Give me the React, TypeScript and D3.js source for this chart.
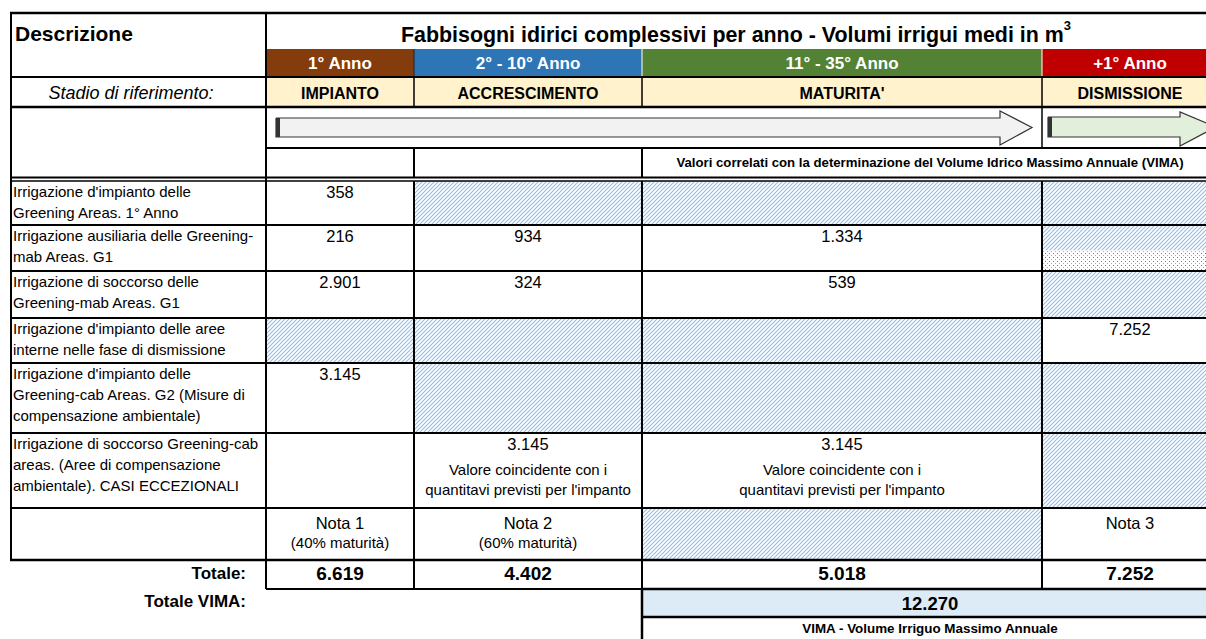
import React from 'react';
import * as d3 from 'd3';

const W = 1206;
const H = 639;

const anni = ['1° Anno', '2° - 10° Anno', '11° - 35° Anno', '+1° Anno'];
const coloriAnni = ['#843C0C', '#2E75B6', '#548235', '#C00000'];
const stadi = ['IMPIANTO', 'ACCRESCIMENTO', "MATURITA'", 'DISMISSIONE'];

const descrizioni = [
  ["Irrigazione d'impianto delle", 'Greening Areas. 1° Anno'],
  ['Irrigazione ausiliaria delle Greening-', 'mab Areas. G1'],
  ['Irrigazione di soccorso delle', 'Greening-mab Areas. G1'],
  ["Irrigazione d'impianto delle aree", 'interne nelle fase di dismissione'],
  ["Irrigazione d'impianto delle", 'Greening-cab Areas. G2 (Misure di', 'compensazione ambientale)'],
  ['Irrigazione di soccorso Greening-cab', 'areas. (Aree di compensazione', 'ambientale). CASI ECCEZIONALI'],
];

const valoriImpianto = [358, 216, 2901, null, 3145, null];
const valoriAccrescimento = [null, 934, 324, null, null, 3145];
const valoriMaturita = [null, 1334, 539, null, null, 3145];
const valoriDismissione = [null, null, null, 7252, null, null];

// 1 = cella tratteggiata, 2 = tratteggio + puntinato
const tratteggio = [
  [0, 1, 1, 1],
  [0, 0, 0, 2],
  [0, 0, 0, 1],
  [1, 1, 1, 0],
  [0, 1, 1, 1],
  [0, 0, 0, 1],
  [0, 0, 1, 0],
];

const notaCoincidente = ['Valore coincidente con i', "quantitavi previsti per l'impanto"];
const note = [['Nota 1', '(40% maturità)'], ['Nota 2', '(60% maturità)'], [], ['Nota 3']];
const totali = [6619, 4402, 5018, 7252];
const totaleVima = 12270;

const FONT = "'Liberation Sans', Arial, sans-serif";

const it = d3.formatLocale({ decimal: ',', thousands: '.', grouping: [3], currency: ['€', ''] });
const fmt = it.format(',d');

// griglia
const colEdges = [10, 266, 414, 642, 1042, 1218];
const rowEdges = [181, 225, 271, 318, 363, 433, 508, 560];
const colonne = [valoriImpianto, valoriAccrescimento, valoriMaturita, valoriDismissione];

const cx = (c: number) => (colEdges[c + 1] + colEdges[c + 2]) / 2;

const arrowPath = (x0: number, tip: number, head: number, y0: number, y1: number, hy0: number, hy1: number) => {
  const ym = (y0 + y1) / 2;
  const line = d3.line();
  return line([
    [x0, y0], [tip - head, y0], [tip - head, hy0], [tip, ym], [tip - head, hy1], [tip - head, y1], [x0, y1], [x0, y0],
  ]) as string;
};

function Linea({ x1, y1, x2, y2, w = 2, c = '#000' }: any) {
  return <line x1={x1} y1={y1} x2={x2} y2={y2} stroke={c} strokeWidth={w} />;
}

export default function App() {
  const right = colEdges[5];
  const lines: any[] = [];
  // orizzontali intestazione
  lines.push(<Linea key="top" x1={10} y1={13} x2={right} y2={13} w={2.5} />);
  lines.push(<Linea key="h77" x1={10} y1={77} x2={right} y2={77} w={1.8} />);
  lines.push(<Linea key="h107" x1={10} y1={107} x2={right} y2={107} w={2.5} />);
  lines.push(<Linea key="h148" x1={266} y1={148} x2={right} y2={148} w={2} />);
  lines.push(<Linea key="h177" x1={10} y1={177.5} x2={right} y2={177.5} w={2} />);
  lines.push(<Linea key="h181" x1={10} y1={181} x2={right} y2={181} w={1.5} />);
  // verticali
  lines.push(<Linea key="vl" x1={11} y1={13} x2={11} y2={560} w={2} />);
  lines.push(<Linea key="v266" x1={266} y1={13} x2={266} y2={589} w={2} />);
  [414, 642].forEach((x) => {
    lines.push(<Linea key={'vs' + x} x1={x} y1={77} x2={x} y2={107} w={1.5} />);
    lines.push(<Linea key={'vv' + x} x1={x} y1={148} x2={x} y2={178} w={2} />);
  });
  lines.push(<Linea key="vs1042" x1={1042} y1={77} x2={1042} y2={148} w={1.5} />);
  [414, 642, 1042].forEach((x) => {
    lines.push(<Linea key={'vd' + x} x1={x} y1={181} x2={x} y2={589} w={2} />);
  });
  rowEdges.slice(1).forEach((y, i) => {
    lines.push(<Linea key={'hr' + i} x1={10} y1={y} x2={right} y2={y} w={i === rowEdges.length - 2 ? 2.5 : 2} />);
  });
  lines.push(<Linea key="h589a" x1={266} y1={589} x2={642} y2={589} w={2} />);
  lines.push(<Linea key="h589b" x1={642} y1={589} x2={right} y2={589} w={2.5} />);
  lines.push(<Linea key="h617" x1={642} y1={617} x2={right} y2={617} w={2.5} />);
  lines.push(<Linea key="v642b" x1={642} y1={589} x2={642} y2={639} w={2.5} />);

  return (
    <svg width={W} height={H} style={{ position: 'absolute', left: 0, top: 0, background: '#fff' }} fontFamily={FONT}>
      <defs>
        <pattern id="hatch" width="4" height="4" patternUnits="userSpaceOnUse">
          <rect width="4" height="4" fill="#fff" />
          <path d="M-1,1 l2,-2 M0,4 l4,-4 M3,5 l2,-2" stroke="#95BDE8" strokeWidth="1.1" />
        </pattern>
        <pattern id="dots" width="4" height="4" patternUnits="userSpaceOnUse">
          <rect width="4" height="4" fill="#fff" />
          <rect x="1" y="1" width="1" height="1" fill="#777" />
          <rect x="3" y="3" width="1" height="1" fill="#aaa" />
        </pattern>
      </defs>

      {/* fasce anni e stadi */}
      {anni.map((a, i) => (
        <g key={a}>
          <rect x={colEdges[i + 1]} y={49} width={colEdges[i + 2] - colEdges[i + 1]} height={28} fill={coloriAnni[i]} />
          <text x={cx(i)} y={69} textAnchor="middle" fill="#fff" fontWeight="bold" fontSize={17}>{a}</text>
          <rect x={colEdges[i + 1]} y={77} width={colEdges[i + 2] - colEdges[i + 1]} height={30} fill="#FFF2CC" />
          <text x={cx(i)} y={99} textAnchor="middle" fontWeight="bold" fontSize={16}>{stadi[i]}</text>
        </g>
      ))}
      {[642, 1042].map((x) => (
        <line key={'ws' + x} x1={x} y1={49} x2={x} y2={77} stroke="#fff" strokeWidth={1} />
      ))}
      <line x1={414} y1={49} x2={414} y2={77} stroke="#222" strokeWidth={1} />

      {/* celle tratteggiate */}
      {tratteggio.map((r, ri) =>
        r.map((t, ci) => {
          if (!t) return null;
          const x = colEdges[ci + 1];
          const w = colEdges[ci + 2] - x;
          const y = rowEdges[ri];
          const h = rowEdges[ri + 1] - y;
          return (
            <g key={ri + '-' + ci}>
              <rect x={x} y={y} width={w} height={h} fill="url(#hatch)" />
              {t === 2 && <rect x={x} y={y + h * 0.55} width={w} height={h * 0.45} fill="url(#dots)" />}
            </g>
          );
        })
      )}

      {/* totale VIMA */}
      <rect x={642} y={589} width={right - 642} height={28} fill="#DDEBF7" />

      {lines}

      {/* frecce */}
      <path d={arrowPath(276, 1032, 32, 118, 137, 111, 145)} fill="#F2F2F2" stroke="#333" strokeWidth={1.2} />
      <rect x={276} y={118} width={4} height={19} fill="#333" />
      <path d={arrowPath(1048, 1216, 36, 117, 137, 112, 146)} fill="#E2EFDA" stroke="#333" strokeWidth={1.2} />
      <rect x={1048} y={117} width={4} height={20} fill="#333" />

      {/* intestazioni */}
      <text x={15} y={41} fontWeight="bold" fontSize={21}>Descrizione</text>
      <text x={(266 + 1206) / 2} y={42} textAnchor="middle" fontWeight="bold" fontSize={21.4}>
        Fabbisogni idirici complessivi per anno - Volumi irrigui medi in m
        <tspan fontSize={13} dy={-12}>3</tspan>
      </text>
      <text x={131} y={99} textAnchor="middle" fontStyle="italic" fontSize={18}>Stadio di riferimento:</text>
      <text x={(642 + right) / 2} y={167} textAnchor="middle" fontWeight="bold" fontSize={13.2}>
        Valori correlati con la determinazione del Volume Idrico Massimo Annuale (VIMA)
      </text>

      {/* descrizioni */}
      {descrizioni.map((d, ri) => (
        <text key={'d' + ri} x={13} y={rowEdges[ri] + 16} fontSize={15}>
          {d.map((l, li) => (
            <tspan key={li} x={13} dy={li === 0 ? 0 : 21}>{l}</tspan>
          ))}
        </text>
      ))}

      {/* valori */}
      {colonne.map((col, ci) =>
        col.map((v, ri) =>
          v == null ? null : (
            <text key={'v' + ci + ri} x={cx(ci)} y={rowEdges[ri] + 17} textAnchor="middle" fontSize={16.5}>{fmt(v)}</text>
          )
        )
      )}
      {[1, 2].map((ci) => (
        <text key={'nc' + ci} textAnchor="middle" fontSize={15}>
          {notaCoincidente.map((l, li) => (
            <tspan key={li} x={cx(ci)} y={rowEdges[5] + 42 + li * 20}>{l}</tspan>
          ))}
        </text>
      ))}
      {note.map((n, ci) =>
        n.map((l, li) => (
          <text key={'n' + ci + li} x={cx(ci)} y={rowEdges[6] + 21 + li * 19} textAnchor="middle" fontSize={li === 0 ? 16.5 : 15}>{l}</text>
        ))
      )}

      {/* totali */}
      <text x={246} y={579} textAnchor="end" fontWeight="bold" fontSize={17}>Totale:</text>
      {totali.map((t, ci) => (
        <text key={'t' + ci} x={cx(ci)} y={580} textAnchor="middle" fontWeight="bold" fontSize={19}>{fmt(t)}</text>
      ))}
      <text x={246} y={607} textAnchor="end" fontWeight="bold" fontSize={17}>Totale VIMA:</text>
      <text x={(642 + right) / 2} y={610} textAnchor="middle" fontWeight="bold" fontSize={18.5}>{fmt(totaleVima)}</text>
      <text x={(642 + right) / 2} y={633} textAnchor="middle" fontWeight="bold" fontSize={13.4}>VIMA - Volume Irriguo Massimo Annuale</text>
    </svg>
  );
}
